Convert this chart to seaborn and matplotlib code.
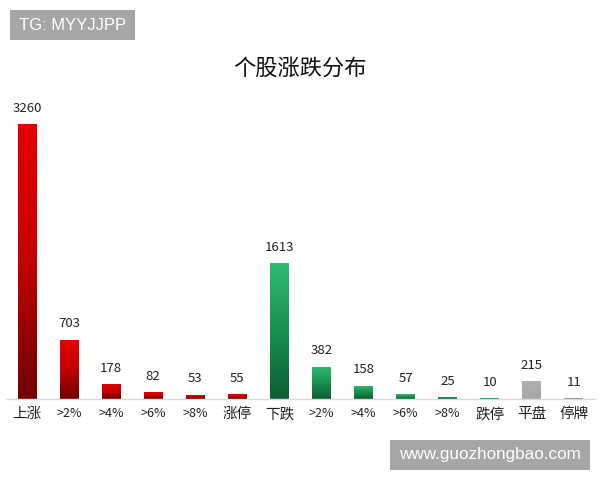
import numpy as np
import pandas as pd
import matplotlib
matplotlib.use("Agg")
import matplotlib.pyplot as plt
import seaborn as sns
from matplotlib.colors import LinearSegmentedColormap
from matplotlib.patches import Rectangle

categories = ["上涨", ">2%", ">4%", ">6%", ">8%", "涨停", "下跌", ">2%", ">4%", ">6%", ">8%", "跌停", "平盘", "停牌"]
values = [3260, 703, 178, 82, 53, 55, 1613, 382, 158, 57, 25, 10, 215, 11]
groups = ["up"] * 6 + ["down"] * 6 + ["flat", "halt"]
title = "个股涨跌分布"
watermark_top = "TG: MYYJJPP"
watermark_bottom = "www.guozhongbao.com"

sns.set_theme(style="white")
plt.rcParams['font.family'] = ['Noto Sans CJK SC', 'DejaVu Sans']

W, H = 600, 480
fig = plt.figure(figsize=(6, 4.8), dpi=100)
ax = fig.add_axes([6/W, 1 - 399/H, 589/W, (399 - 90)/H])

df = pd.DataFrame({"pos": [str(i) for i in range(len(values))], "value": values, "group": groups})
palette = {"up": "#c00000", "down": "#1a9a55", "flat": "#a9a9a9", "halt": "#8a8a8a"}
sns.barplot(data=df, x="pos", y="value", hue="group", palette=palette, dodge=False,
            width=0.45, legend=False, ax=ax, saturation=1)

grads = {
    "up": LinearSegmentedColormap.from_list("u", ["#700000", "#c40000", "#e60000"]),
    "down": LinearSegmentedColormap.from_list("d", ["#0c5e33", "#18904f", "#2fbc74"]),
    "flat": LinearSegmentedColormap.from_list("f", ["#a6a6a6", "#b0b0b0"]),
    "halt": LinearSegmentedColormap.from_list("h", ["#808080", "#909090"]),
}
grad = np.linspace(0, 1, 256).reshape(-1, 1)
for p in ax.patches:
    h = p.get_height()
    if h <= 0:
        continue
    x0 = p.get_x()
    w = p.get_width()
    idx = int(round(x0 + w / 2))
    g = groups[idx]
    im = ax.imshow(grad, cmap=grads[g], origin="lower", aspect="auto",
                   extent=[x0, x0 + w, 0, h], zorder=p.get_zorder() + 0.1)
    im.set_clip_path(p)
    ax.text(x0 + w / 2, h + 110, f"{values[idx]}", ha="center", va="bottom",
            fontsize=9.5, color="#222222")

ax.set_xlim(-0.5, len(values) - 0.5)
ax.set_ylim(0, 3663)
ax.set_xticks(range(len(values)))
ax.set_xticklabels(categories)
for lab in ax.get_xticklabels():
    t = lab.get_text()
    lab.set_fontsize(9 if ("%" in t) else 10.5)
    lab.set_color("#222222")
ax.tick_params(axis="x", length=0, pad=6)
ax.set_yticks([])
ax.set_xlabel("")
ax.set_ylabel("")
for s in ["top", "right", "left"]:
    ax.spines[s].set_visible(False)
ax.spines["bottom"].set_color("#d9d9d9")
ax.spines["bottom"].set_linewidth(1)
ax.patch.set_alpha(0)

fig.text(0.5, 1 - 68/H, title, ha="center", va="center", fontsize=16, color="#111111")

def box(x0, y0, x1, y1, text, fs):
    fig.add_artist(Rectangle((x0/W, 1 - y1/H), (x1 - x0)/W, (y1 - y0)/H,
                             transform=fig.transFigure, fc="#a6a6a6", ec="none"))
    fig.text((x0 + x1) / 2 / W, 1 - (y0 + y1) / 2 / H, text, ha="center", va="center",
             fontsize=fs, color="white", family=["Liberation Sans", "DejaVu Sans"])

box(10, 10, 135, 40, watermark_top, 12)
box(390, 440, 590, 470, watermark_bottom, 12.3)

fig.savefig("out.png", dpi=100)
